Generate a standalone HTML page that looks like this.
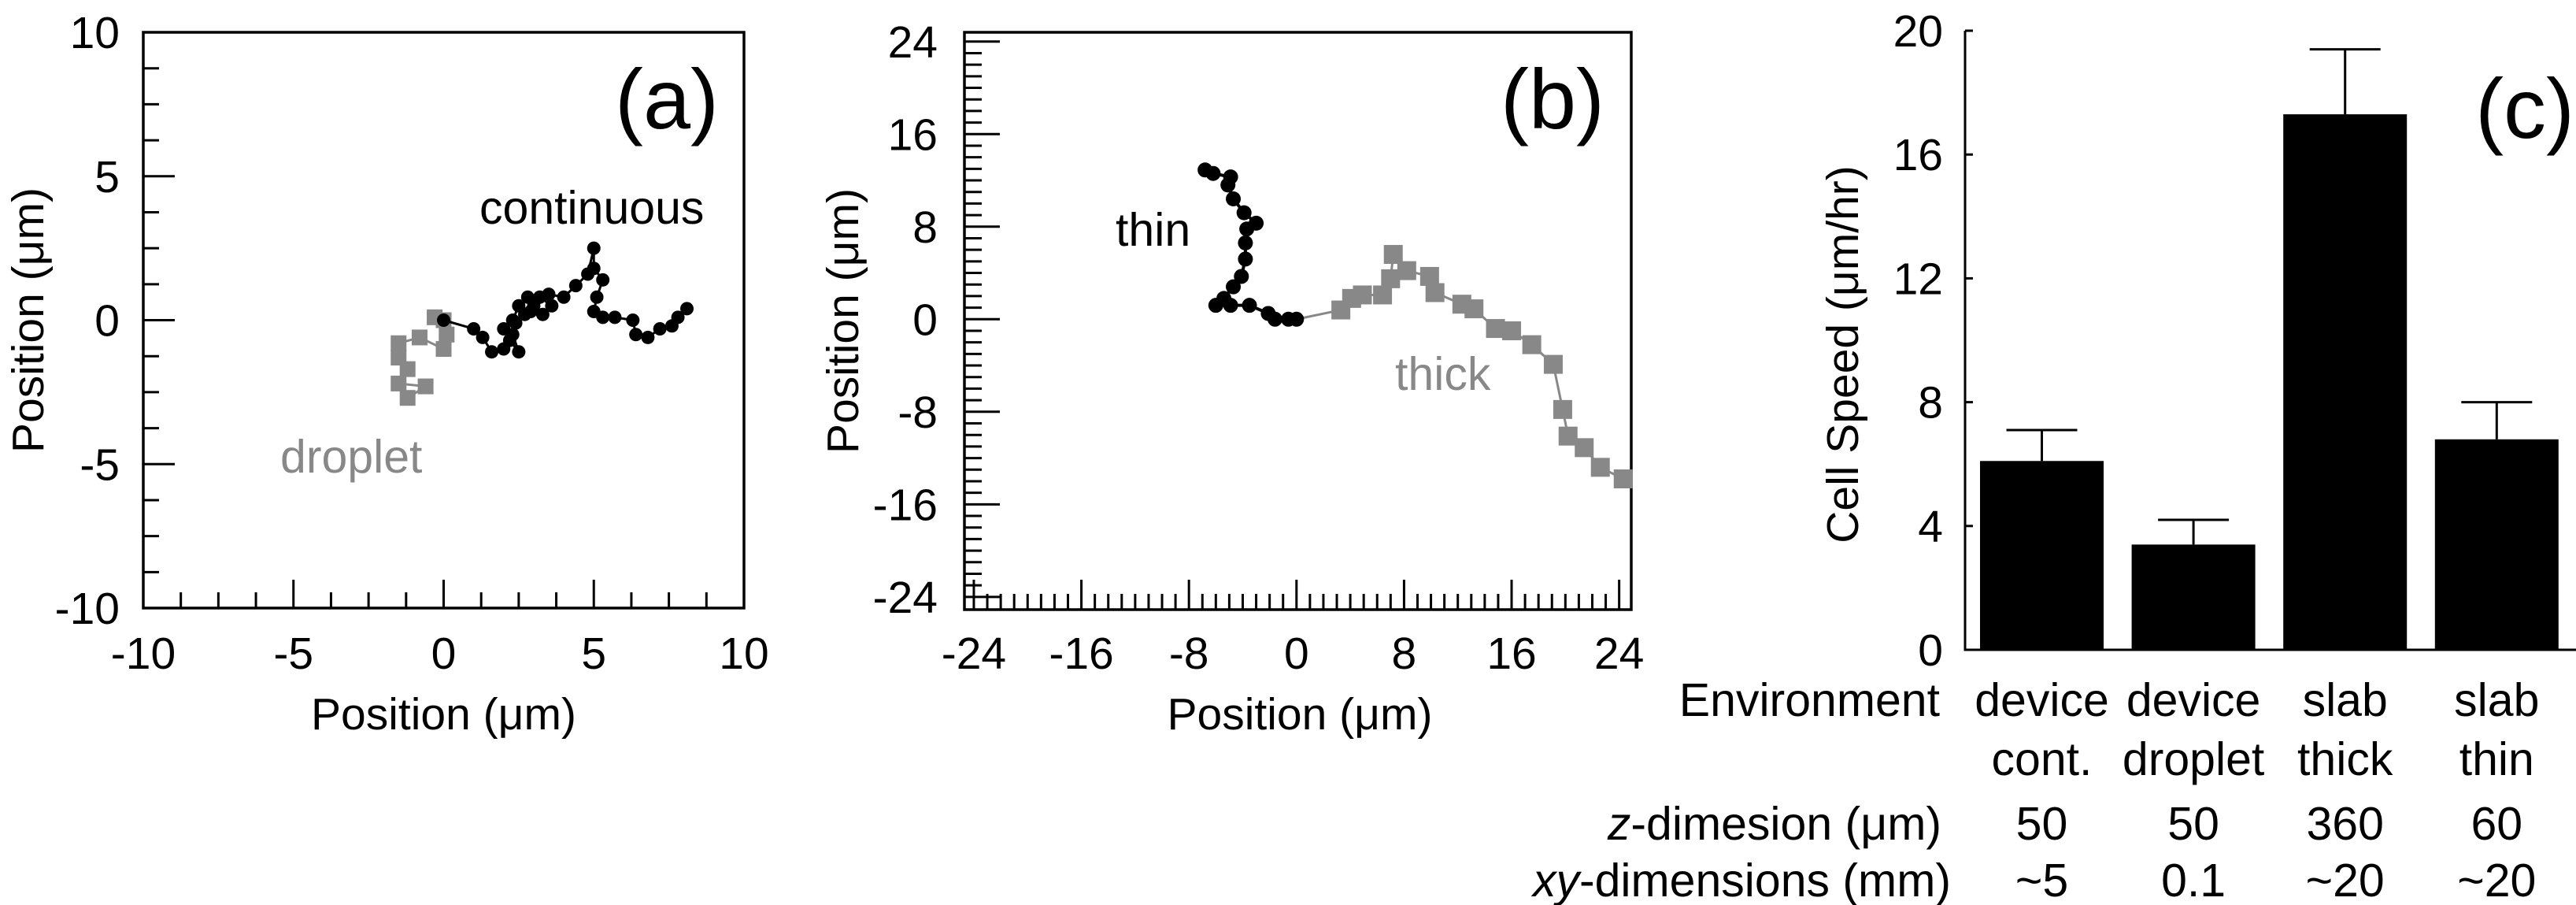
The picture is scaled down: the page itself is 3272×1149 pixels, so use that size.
<!DOCTYPE html>
<html><head><meta charset="utf-8">
<style>
html,body{margin:0;padding:0;background:#fff;}
svg{display:block;font-family:"Liberation Sans",Arial,sans-serif;}
</style></head>
<body>
<svg id="fig" width="3272" height="1149" viewBox="0 0 3272 1149" xmlns="http://www.w3.org/2000/svg">
<g id="pa"></g>
<g id="pb"></g>
<g id="pc"></g>
</svg>
<script>
// ---- Panel (a) data ----
const aContX = [0,1,1.3,1.6,2,2.2,2.5,2.3,2,2.3,2.5,2.8,3.2,3.6,3.3,3,2.7,2.4,2.9,3.5,4,4.4,4.8,5,5,5.3,5.1,5,5.3,5.7,6.3,6.4,6.8,7.2,7.6,7.8,8.1];
const aContY = [0,-0.3,-0.6,-1.1,-1,-0.7,-1.1,-0.5,-0.3,0,0.5,0.8,0.8,0.5,0.2,0.5,0.2,-0.1,0.3,0.9,0.8,1.2,1.6,2.5,1.8,1.4,0.8,0.3,0.1,0.1,0,-0.5,-0.6,-0.3,-0.2,0.1,0.4];
const aDropX = [0,-0.3,0.1,0,-0.8,-1.5,-1.5,-1.2,-1.5,-0.6,-1.2];
const aDropY = [0,0.1,-0.5,-1,-0.6,-0.8,-1.3,-1.7,-2.2,-2.3,-2.7];
const aTicks = [-10,-5,0,5,10];
// ---- Panel (b) data ----
const bThinX = [0,-0.6,-1.6,-2.1,-3.5,-4.9,-6,-5.4,-4.7,-4.1,-3.8,-3.8,-3.7,-3,-3.9,-4.7,-5.1,-4.9,-6.2,-6.8];
const bThinY = [0,0,0,0.5,1.2,1.2,1.2,1.8,2.8,3.7,5.2,6.6,7.8,8.3,9.2,10.4,11.6,12.3,12.6,12.9];
const bThickX = [0,3.3,4.1,4.9,6.4,7,7.2,8.2,9.9,10.3,12.3,13.2,14.8,16,17.5,19.1,19.8,20.2,21.4,22.6,24.3];
const bThickY = [0,0.8,1.8,2.1,2.1,3.5,5.6,4.2,3.7,2.3,1.3,0.9,-0.8,-1,-2.2,-3.9,-7.8,-10.1,-11.1,-12.8,-13.8];
const bTicks = [-24,-16,-8,0,8,16,24];
// ---- Panel (c) data ----
const cCats = ["device cont.","device droplet","slab thick","slab thin"];
const cLine1 = ["device","device","slab","slab"];
const cLine2 = ["cont.","droplet","thick","thin"];
const cSpeed = [6.1,3.4,17.3,6.8];
const cErr = [1.0,0.8,2.1,1.2];
const cZdim = ["50","50","360","60"];
const cXYdim = ["~5","0.1","~20","~20"];
const cTicks = [0,4,8,12,16,20];

const NS="http://www.w3.org/2000/svg";
function mk(parent,tag,attrs,text){const e=document.createElementNS(NS,tag);for(const k in attrs)e.setAttribute(k,attrs[k]);if(text!==undefined)e.textContent=text;parent.appendChild(e);return e;}
const FS=57;

// ===== Panel A =====
(function(){
const g=document.getElementById('pa');
const L=182,R=945,T=41,B=772;
const sx=v=>L+(v+10)/20*(R-L), sy=v=>B-(v+10)/20*(B-T);
const fr=mk(g,'rect',{x:L,y:T,width:R-L,height:B-T,fill:'none',stroke:'#000','stroke-width':3.5});

for(let i=0;i<=16;i++){const v=-10+i*1.25;const major=(i%4===0);
 if(i>0&&i<16){const t=mk(g,'line',{x1:sx(v),x2:sx(v),y1:B,y2:B-(major?36:20),stroke:'#000','stroke-width':3});
 const t2=mk(g,'line',{x1:L,x2:L+(major?40:20),y1:sy(v),y2:sy(v),stroke:'#000','stroke-width':3});}}
aTicks.forEach(v=>{const t=mk(g,'text',{x:sx(v),y:849,'font-size':FS,'text-anchor':'middle'},String(v));
 const u=mk(g,'text',{x:152,y:sy(v)+20,'font-size':FS,'text-anchor':'end'},String(v));});
const xt=mk(g,'text',{x:(L+R)/2,y:926,'font-size':FS,'text-anchor':'middle'},'Position (\u03bcm)');
const yt=mk(g,'text',{x:0,y:0,'font-size':FS,'text-anchor':'middle',transform:`translate(55,${(T+B)/2}) rotate(-90)`},'Position (\u03bcm)');
const pl=mk(g,'text',{x:913,y:163,'font-size':108,'text-anchor':'end'},'(a)');
// droplet
let d='';aDropX.forEach((x,i)=>{d+=(i?'L':'M')+sx(x)+' '+sy(aDropY[i]);});
const dl=mk(g,'path',{d:d,fill:'none',stroke:'#888','stroke-width':3});
aDropX.forEach((x,i)=>{const r=mk(g,'rect',{x:sx(x)-10,y:sy(aDropY[i])-10,width:20,height:20,fill:'#888'});});
d='';aContX.forEach((x,i)=>{d+=(i?'L':'M')+sx(x)+' '+sy(aContY[i]);});
const cl=mk(g,'path',{d:d,fill:'none',stroke:'#000','stroke-width':3});
aContX.forEach((x,i)=>{const c=mk(g,'circle',{cx:sx(x),cy:sy(aContY[i]),r:8.5,fill:'#000'});});
const l1=mk(g,'text',{x:609,y:284,'font-size':59},'continuous');
const l2=mk(g,'text',{x:356,y:600,'font-size':59,fill:'#888'},'droplet');
})();

// ===== Panel B =====
(function(){
const g=document.getElementById('pb');
const L=1225,R=2072,T=41,B=774;
const x0=-24.7,x1=24.9,y0=-25.1,y1=24.8;
const sx=v=>L+(v-x0)/(x1-x0)*(R-L), sy=v=>B-(v-y0)/(y1-y0)*(B-T);
const fr=mk(g,'rect',{x:L,y:T,width:R-L,height:B-T,fill:'none',stroke:'#000','stroke-width':3.5});

for(let v=-24;v<=24;v++){const major=(v%8===0);
 const t=mk(g,'line',{x1:sx(v),x2:sx(v),y1:B,y2:B-(major?38:20),stroke:'#000','stroke-width':3});
 const t2=mk(g,'line',{x1:L,x2:L+(major?45:22),y1:sy(v),y2:sy(v),stroke:'#000','stroke-width':3});}
bTicks.forEach(v=>{const t=mk(g,'text',{x:sx(v),y:849,'font-size':FS,'text-anchor':'middle'},String(v));
 const u=mk(g,'text',{x:1191,y:sy(v)+20,'font-size':FS,'text-anchor':'end'},String(v));});
const xt=mk(g,'text',{x:1651,y:926,'font-size':FS,'text-anchor':'middle'},'Position (\u03bcm)');
const yt=mk(g,'text',{x:0,y:0,'font-size':FS,'text-anchor':'middle',transform:`translate(1090,${(T+B)/2}) rotate(-90)`},'Position (\u03bcm)');
const pl=mk(g,'text',{x:2038,y:163,'font-size':108,'text-anchor':'end'},'(b)');
let d='';bThickX.forEach((x,i)=>{d+=(i?'L':'M')+sx(x)+' '+sy(bThickY[i]);});
const dl=mk(g,'path',{d:d,fill:'none',stroke:'#888','stroke-width':3});
bThickX.forEach((x,i)=>{if(i===0)return;const r=mk(g,'rect',{x:sx(x)-12,y:sy(bThickY[i])-12,width:24,height:24,fill:'#888'});});
d='';bThinX.forEach((x,i)=>{d+=(i?'L':'M')+sx(x)+' '+sy(bThinY[i]);});
const cl=mk(g,'path',{d:d,fill:'none',stroke:'#000','stroke-width':4});
bThinX.forEach((x,i)=>{const c=mk(g,'circle',{cx:sx(x),cy:sy(bThinY[i]),r:9.5,fill:'#000'});});
const l1=mk(g,'text',{x:1417,y:312,'font-size':59},'thin');
const l2=mk(g,'text',{x:1772,y:495,'font-size':59,fill:'#888'},'thick');
})();

// ===== Panel C =====
(function(){
const g=document.getElementById('pc');
const AX=2496,B=825,T=39,RX=3272;
const sy=v=>B-v/20*(B-T);
const per=192.6,bw=157,first=2515;
const bx=i=>first+i*per;
const ax=mk(g,'path',{d:`M${AX} ${T}L${AX} ${B}L${RX} ${B}`,fill:'none',stroke:'#000','stroke-width':3});
cTicks.forEach(v=>{const t=mk(g,'line',{x1:AX,x2:AX+10,y1:sy(v),y2:sy(v),stroke:'#000','stroke-width':3});
 const u=mk(g,'text',{x:2468,y:sy(v)+20,'font-size':FS,'text-anchor':'end'},String(v));});
const yt=mk(g,'text',{x:0,y:0,'font-size':FS,'text-anchor':'middle',transform:`translate(2360,450) rotate(-90)`},'Cell Speed (\u03bcm/hr)');
const pl=mk(g,'text',{x:3270,y:175,'font-size':108,'text-anchor':'end'},'(c)');
cSpeed.forEach((v,i)=>{const cx=bx(i)+bw/2;
 const e=mk(g,'line',{x1:cx,x2:cx,y1:sy(v),y2:sy(v+cErr[i]),stroke:'#000','stroke-width':3});
 const c=mk(g,'line',{x1:cx-45,x2:cx+45,y1:sy(v+cErr[i]),y2:sy(v+cErr[i]),stroke:'#000','stroke-width':3});
 const r=mk(g,'rect',{x:bx(i),y:sy(v),width:bw,height:B-sy(v),fill:'#000'});
 const t1=mk(g,'text',{x:cx,y:909,'font-size':59,'text-anchor':'middle'},cLine1[i]);
 const t2=mk(g,'text',{x:cx,y:984,'font-size':59,'text-anchor':'middle'},cLine2[i]);
 const t3=mk(g,'text',{x:cx,y:1066,'font-size':59,'text-anchor':'middle'},cZdim[i]);
 const t4=mk(g,'text',{x:cx,y:1138,'font-size':59,'text-anchor':'middle'},cXYdim[i]);
});
const r1=mk(g,'text',{x:2464,y:909,'font-size':59,'text-anchor':'end'},'Environment');
const r3=mk(g,'text',{x:2466,y:1066,'font-size':59,'text-anchor':'end'});
mk(r3,'tspan',{'font-style':'italic'},'z');mk(r3,'tspan',{},'-dimesion (\u03bcm)');
const r4=mk(g,'text',{x:2478,y:1138,'font-size':59,'text-anchor':'end'});
mk(r4,'tspan',{'font-style':'italic'},'xy');mk(r4,'tspan',{},'-dimensions (mm)');
})();
</script>
</body></html>
